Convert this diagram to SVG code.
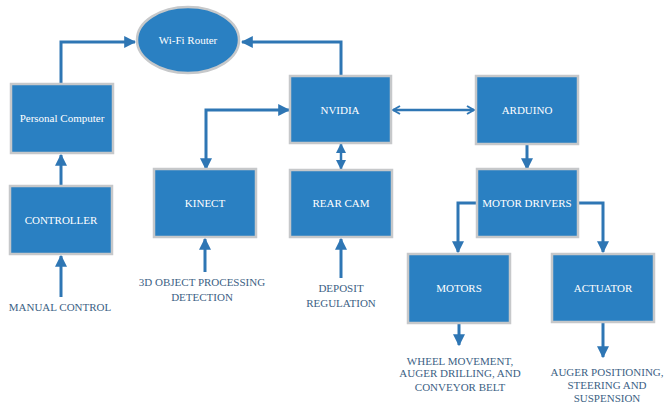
<svg xmlns="http://www.w3.org/2000/svg" width="665" height="404" viewBox="0 0 665 404">
<defs>
<style>
text{font-family:'Liberation Serif','Times New Roman','DejaVu Serif',serif;font-size:11px;text-anchor:middle}
.box{fill:#2A80C2;stroke:#C6C8CA;stroke-width:2.5}
.lbl{fill:#fff}
.out{fill:#3C6184}
.ln{fill:none;stroke:#2E76B4;stroke-width:3}
.ln2{fill:none;stroke:#2E76B4;stroke-width:2.5}
</style>
<marker id="ah" viewBox="0 0 10 10" refX="9" refY="5" markerWidth="4" markerHeight="4" orient="auto-start-reverse" markerUnits="strokeWidth">
<path d="M0,0 L10,5 L0,10 z" fill="#2E76B4"/>
</marker>
<marker id="oh" viewBox="0 0 10 10" refX="9" refY="5" markerWidth="4" markerHeight="4" orient="auto-start-reverse" markerUnits="strokeWidth">
<path d="M2,1 L9,5 L2,9" fill="none" stroke="#2E76B4" stroke-width="2"/>
</marker>
</defs>
<rect width="665" height="404" fill="#fff"/>
<g id="connectors">
<path class="ln" d="M61,84 V42 H135" marker-end="url(#ah)"/>
<path class="ln" d="M341,76 V42 H242" marker-end="url(#ah)"/>
<path class="ln" d="M61,186 V155" marker-end="url(#ah)"/>
<path class="ln" d="M61,297 V256" marker-end="url(#ah)"/>
<path class="ln" d="M289,110 H206 V169" marker-start="url(#ah)" marker-end="url(#ah)"/>
<path class="ln" d="M205,272 V239" marker-end="url(#ah)"/>
<path class="ln2" d="M341,144 V169" marker-start="url(#ah)" marker-end="url(#ah)"/>
<path class="ln" d="M341,278 V239" marker-end="url(#ah)"/>
<path class="ln2" d="M393,110 H474" marker-start="url(#oh)" marker-end="url(#oh)"/>
<path class="ln" d="M527,145 V169" marker-end="url(#ah)"/>
<path class="ln" d="M477,203 H458 V252" marker-end="url(#ah)"/>
<path class="ln" d="M578,203 H603 V252" marker-end="url(#ah)"/>
<path class="ln" d="M459,324 V345" marker-end="url(#ah)"/>
<path class="ln" d="M603,323 V357" marker-end="url(#ah)"/>
</g>
<g id="wifi-router">
<ellipse cx="188" cy="40" rx="51" ry="33" class="box"/>
<text x="188" y="44" class="lbl">Wi-Fi Router</text>
</g>
<g id="personal-computer">
<rect x="11" y="84" width="102" height="69" class="box"/>
<text x="62" y="122" class="lbl">Personal Computer</text>
</g>
<g id="controller">
<rect x="10" y="186" width="102" height="68" class="box"/>
<text x="61" y="224" class="lbl">CONTROLLER</text>
</g>
<g id="nvidia">
<rect x="290" y="76" width="101" height="67" class="box"/>
<text x="340" y="114" class="lbl">NVIDIA</text>
</g>
<g id="arduino">
<rect x="476" y="76" width="102" height="68" class="box"/>
<text x="527" y="114" class="lbl">ARDUINO</text>
</g>
<g id="kinect">
<rect x="154" y="169" width="102" height="68" class="box"/>
<text x="205" y="207" class="lbl">KINECT</text>
</g>
<g id="rear-cam">
<rect x="290" y="170" width="102" height="67" class="box"/>
<text x="341" y="207" class="lbl">REAR CAM</text>
</g>
<g id="motor-drivers">
<rect x="477" y="169" width="101" height="68" class="box"/>
<text x="527" y="207" class="lbl">MOTOR DRIVERS</text>
</g>
<g id="motors">
<rect x="408" y="254" width="102" height="69" class="box"/>
<text x="459" y="292" class="lbl">MOTORS</text>
</g>
<g id="actuator">
<rect x="552" y="254" width="102" height="68" class="box"/>
<text x="603" y="292" class="lbl">ACTUATOR</text>
</g>
<g id="labels">
<text x="60" y="311" class="out">MANUAL CONTROL</text>
<text x="202" y="286" class="out">3D OBJECT PROCESSING</text>
<text x="202" y="301" class="out">DETECTION</text>
<text x="341" y="292" class="out">DEPOSIT</text>
<text x="341" y="307" class="out">REGULATION</text>
<text x="460" y="365" class="out">WHEEL MOVEMENT,</text>
<text x="460" y="377" class="out">AUGER DRILLING, AND</text>
<text x="460" y="391" class="out">CONVEYOR BELT</text>
<text x="607" y="376" class="out">AUGER POSITIONING,</text>
<text x="607" y="389" class="out">STEERING AND</text>
<text x="607" y="402" class="out">SUSPENSION</text>
</g>
</svg>
